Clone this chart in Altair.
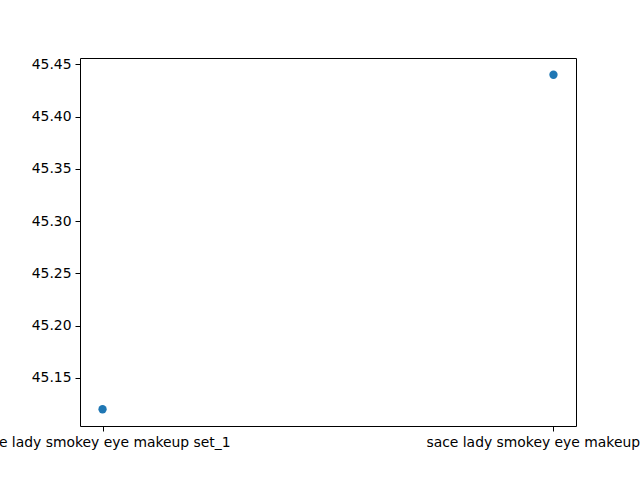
import altair as alt
import pandas as pd

categories = ["sace lady smokey eye makeup set_1", "sace lady smokey eye makeup set_2"]
values = [45.12, 45.44]
y_ticks = [45.15, 45.20, 45.25, 45.30, 45.35, 45.40, 45.45]

df = pd.DataFrame({"idx": list(range(len(categories))), "cat": categories, "val": values})

label_expr = "datum.value == 0 ? '" + categories[0] + "' : datum.value == 1 ? '" + categories[1] + "' : ''"

chart = alt.Chart(df).mark_point(filled=True, size=69, opacity=1, color="#1f77b4").encode(
    x=alt.X("idx:Q", scale=alt.Scale(domain=[-0.05, 1.05], nice=False, zero=False),
            axis=alt.Axis(values=[0, 1], labelExpr=label_expr, title=None, grid=False,
                          labelBound=False, labelFlush=False, labelOverlap=False, labelLimit=1000,
                          tickSize=5, tickColor="black", domain=False,
                          labelFont="DejaVu Sans", labelFontSize=13.9, labelColor="black",
                          labelPadding=4)),
    y=alt.Y("val:Q", scale=alt.Scale(domain=[45.104, 45.456], nice=False, zero=False),
            axis=alt.Axis(values=y_ticks, format=".2f", title=None, grid=False,
                          tickSize=5, tickColor="black", domain=False,
                          labelFont="DejaVu Sans", labelFontSize=13.9, labelColor="black",
                          labelPadding=4, labelBound=False, labelFlush=False)),
).properties(
    width=496, height=368,
    autosize=alt.AutoSizeParams(type="none"),
    padding={"left": 80, "top": 58, "right": 64, "bottom": 54},
    background="white",
).configure_view(stroke="black", strokeWidth=1)

chart.save("out.html", embed_options={"renderer": "svg", "actions": False})
